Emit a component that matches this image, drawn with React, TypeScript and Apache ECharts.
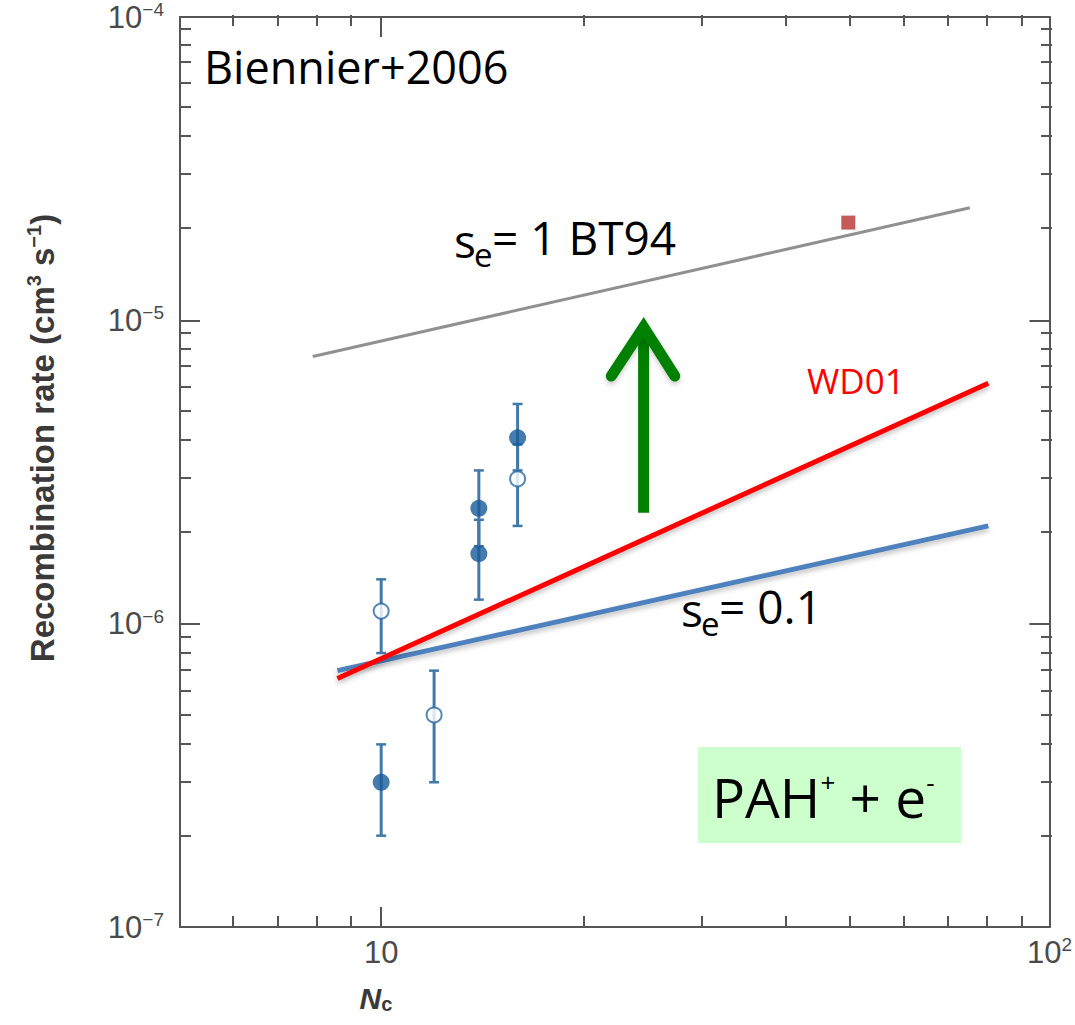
import React, { useEffect, useRef } from "react";
import * as echarts from "echarts";

// ---- axes ----
const xRange = [5, 100];
const yRange = [1e-7, 1e-4];
const xMajorTicks = [10, 100];
const xMinorTicks = [6, 7, 8, 9, 20, 30, 40, 50, 60, 70, 80, 90];
const yMajorTicks = [1e-7, 1e-6, 1e-5, 1e-4];
const yMinorTicks = [
  2e-7, 3e-7, 4e-7, 5e-7, 6e-7, 7e-7, 8e-7, 9e-7,
  2e-6, 3e-6, 4e-6, 5e-6, 6e-6, 7e-6, 8e-6, 9e-6,
  2e-5, 3e-5, 4e-5, 5e-5, 6e-5, 7e-5, 8e-5, 9e-5,
];

// ---- measurements (Biennier+2006) ----
const filledNc = [10, 14, 14, 16];
const filledRate = [3.0e-7, 1.7e-6, 2.4e-6, 4.1e-6];
const filledLow = [2.0e-7, 1.2e-6, 1.8e-6, 3.2e-6];
const filledHigh = [4.0e-7, 2.2e-6, 3.2e-6, 5.3e-6];

const openNc = [10, 12, 16];
const openRate = [1.1e-6, 5.0e-7, 3.0e-6];
const openLow = [8.0e-7, 3.0e-7, 2.1e-6];
const openHigh = [1.4e-6, 7.0e-7, 3.9e-6];

const squareNc = [50];
const squareRate = [2.1e-5];

// ---- model lines ----
const bt94Nc = [7.9, 76];
const bt94Rate = [7.6e-6, 2.35e-5];
const wd01Nc = [8.6, 81];
const wd01Rate = [6.6e-7, 6.2e-6];
const se01Nc = [8.6, 81];
const se01Rate = [7.0e-7, 2.1e-6];

// ---- green arrow ----
const arrowShaftNc = [24.7, 24.7];
const arrowShaftRate = [2.32e-6, 9.2e-6];
const arrowHeadNc = [22.1, 24.7, 27.5];
const arrowHeadRate = [6.55e-6, 9.5e-6, 6.55e-6];

const lg = (v: number) => Math.round(Math.log10(v) * 1e9) / 1e9;
const pairs = (xs: number[], ys: number[]) => xs.map((x, i) => [lg(x), lg(ys[i])]);

const AXIS_COLOR = "#555555";
const LABEL_FONT = "Liberation Sans";
const ANNOT_FONT = "Open Sans";

const annot = (x: number, y: number, text: string, size: number, fill = "#000000") => ({
  type: "text",
  x,
  y,
  z: 3,
  style: { text, fontSize: size, fontFamily: ANNOT_FONT, fill, align: "left", verticalAlign: "middle" },
});

export default function App() {
  const ref = useRef<HTMLDivElement>(null);

  useEffect(() => {
    if (!ref.current) return;
    const chart = echarts.init(ref.current, undefined, { renderer: "svg" });

    const gridBox = { left: 180, right: 23, top: 15, bottom: 98 };
    const lineStyle = { color: AXIS_COLOR, width: 2 };

    const labelRich = {
      b: { fontSize: 31, fontFamily: LABEL_FONT, color: "#4a4a4a", lineHeight: 34 },
      s: { fontSize: 19, fontFamily: LABEL_FONT, color: "#4a4a4a", lineHeight: 19, verticalAlign: "top" },
    };

    const xAxisBase = (grid: number, pos: string, ticks: number[], len: number, labels: boolean, showLine: boolean) => ({
      type: "value",
      gridIndex: grid,
      position: pos,
      min: lg(xRange[0]),
      max: lg(xRange[1]),
      axisLine: { show: showLine, lineStyle },
      axisTick: { show: true, inside: true, length: len, customValues: ticks.map(lg), lineStyle },
      axisLabel: labels
        ? {
            show: true,
            customValues: xMajorTicks.map(lg),
            margin: 8,
            fontSize: 31,
            fontFamily: LABEL_FONT,
            color: "#4a4a4a",
            formatter: (v: number) => {
              const e = Math.round(v);
              return e === 1 ? "{b|10}" : `{b|10}{s|${e}}`;
            },
            rich: labelRich,
          }
        : { show: false },
      splitLine: { show: false },
    });

    const yAxisBase = (grid: number, pos: string, ticks: number[], len: number, labels: boolean, showLine: boolean) => ({
      type: "value",
      gridIndex: grid,
      position: pos,
      min: lg(yRange[0]),
      max: lg(yRange[1]),
      axisLine: { show: showLine, lineStyle },
      axisTick: { show: true, inside: true, length: len, customValues: ticks.map(lg), lineStyle },
      axisLabel: labels
        ? {
            show: true,
            customValues: yMajorTicks.map(lg),
            margin: 16,
            fontSize: 31,
            fontFamily: LABEL_FONT,
            color: "#4a4a4a",
            formatter: (v: number) => `{b|10}{s|\u2212${-Math.round(v)}}`,
            rich: labelRich,
          }
        : { show: false },
      splitLine: { show: false },
    });

    const errData = [
      ...filledNc.map((n, i) => [lg(n), lg(filledLow[i]), lg(filledHigh[i])]),
      ...openNc.map((n, i) => [lg(n), lg(openLow[i]), lg(openHigh[i])]),
    ];

    const errColor = "#4379a8";

    const option: any = {
      animation: false,
      backgroundColor: "#ffffff",
      grid: [{ ...gridBox }, { ...gridBox }],
      xAxis: [
        xAxisBase(0, "bottom", xMajorTicks, 20, true, true),
        xAxisBase(0, "top", xMajorTicks, 20, false, true),
        xAxisBase(1, "bottom", xMinorTicks, 11, false, false),
        xAxisBase(1, "top", xMinorTicks, 11, false, false),
      ],
      yAxis: [
        yAxisBase(0, "left", yMajorTicks, 20, true, true),
        yAxisBase(0, "right", yMajorTicks, 20, false, true),
        yAxisBase(1, "left", yMinorTicks, 11, false, false),
        yAxisBase(1, "right", yMinorTicks, 11, false, false),
      ],
      series: [
        {
          name: "s_e = 1 BT94",
          type: "line",
          xAxisIndex: 0,
          yAxisIndex: 0,
          data: pairs(bt94Nc, bt94Rate),
          showSymbol: false,
          lineStyle: { color: "#909090", width: 3 },
          z: 2,
        },
        {
          name: "WD01",
          type: "line",
          xAxisIndex: 0,
          yAxisIndex: 0,
          data: pairs(wd01Nc, wd01Rate),
          showSymbol: false,
          lineStyle: {
            color: "#ff0000",
            width: 5,
            shadowColor: "rgba(0,0,0,0.25)",
            shadowBlur: 5,
            shadowOffsetY: 3,
          },
          z: 4,
        },
        {
          name: "s_e = 0.1",
          type: "line",
          xAxisIndex: 0,
          yAxisIndex: 0,
          data: pairs(se01Nc, se01Rate),
          showSymbol: false,
          lineStyle: {
            color: "#4f81bd",
            width: 5,
            shadowColor: "rgba(0,0,0,0.25)",
            shadowBlur: 5,
            shadowOffsetY: 3,
          },
          z: 3,
        },
        {
          name: "error bars",
          type: "custom",
          xAxisIndex: 0,
          yAxisIndex: 0,
          data: errData,
          encode: { x: 0, y: [1, 2] },
          z: 5,
          renderItem: (params: any, api: any) => {
            const x = api.value(0);
            const p1 = api.coord([x, api.value(1)]);
            const p2 = api.coord([x, api.value(2)]);
            const w = 5;
            const st = { stroke: errColor, lineWidth: 3 };
            const st2 = { stroke: errColor, lineWidth: 2.5 };
            return {
              type: "group",
              children: [
                { type: "line", shape: { x1: p1[0], y1: p1[1], x2: p2[0], y2: p2[1] }, style: st },
                { type: "line", shape: { x1: p1[0] - w, y1: p1[1], x2: p1[0] + w, y2: p1[1] }, style: st2 },
                { type: "line", shape: { x1: p2[0] - w, y1: p2[1], x2: p2[0] + w, y2: p2[1] }, style: st2 },
              ],
            };
          },
        },
        {
          name: "filled",
          type: "scatter",
          xAxisIndex: 0,
          yAxisIndex: 0,
          data: pairs(filledNc, filledRate),
          symbol: "circle",
          symbolSize: 17,
          itemStyle: { color: "#185a98" },
          z: 6,
        },
        {
          name: "open",
          type: "scatter",
          xAxisIndex: 0,
          yAxisIndex: 0,
          data: pairs(openNc, openRate),
          symbol: "circle",
          symbolSize: 15,
          itemStyle: { color: "#ffffff", borderColor: "#2a6aa3", borderWidth: 2 },
          z: 6,
        },
        {
          name: "square",
          type: "scatter",
          xAxisIndex: 0,
          yAxisIndex: 0,
          data: pairs(squareNc, squareRate),
          symbol: "rect",
          symbolSize: 14,
          itemStyle: { color: "#b5322e" },
          z: 6,
        },
        {
          name: "arrow shaft",
          type: "line",
          xAxisIndex: 0,
          yAxisIndex: 0,
          data: pairs(arrowShaftNc, arrowShaftRate),
          showSymbol: false,
          lineStyle: { color: "#008000", width: 11, cap: "butt" },
          z: 7,
        },
        {
          name: "arrow head",
          type: "line",
          xAxisIndex: 0,
          yAxisIndex: 0,
          data: pairs(arrowHeadNc, arrowHeadRate),
          showSymbol: false,
          lineStyle: {
            color: "#008000",
            width: 11,
            cap: "round",
            join: "miter",
            shadowColor: "rgba(0,0,0,0.2)",
            shadowBlur: 5,
            shadowOffsetY: 3,
          },
          z: 7,
        },
      ],
      graphic: {
        elements: [
          {
            type: "text",
            x: 42,
            y: 438,
            rotation: Math.PI / 2,
            style: {
              text: "{a|Recombination rate (cm}{s|3}{a| s}{s|\u22121}{a|)}",
              align: "center",
              verticalAlign: "middle",
              rich: {
                a: { fontSize: 33, fontWeight: "bold", fontFamily: LABEL_FONT, fill: "#3a3a3a", lineHeight: 36 },
                s: { fontSize: 20, fontWeight: "bold", fontFamily: LABEL_FONT, fill: "#3a3a3a", lineHeight: 20, verticalAlign: "top" },
              },
            },
          },
          {
            type: "text",
            x: 376,
            y: 998,
            style: {
              text: "{n|N}{c|c}",
              align: "center",
              verticalAlign: "middle",
              rich: {
                n: { fontSize: 30, fontWeight: "bold", fontStyle: "italic", fontFamily: LABEL_FONT, fill: "#3a3a3a", lineHeight: 32 },
                c: { fontSize: 20, fontWeight: "bold", fontFamily: LABEL_FONT, fill: "#3a3a3a", lineHeight: 12, verticalAlign: "bottom" },
              },
            },
          },
          annot(204, 66, "Biennier+2006", 45),
          // s_e = 1 BT94
          annot(454, 240, "s", 46),
          annot(474, 254, "e", 33),
          annot(492, 237, "= 1 BT94", 46),
          // s_e = 0.1
          annot(681, 609, "s", 46),
          annot(701, 623, "e", 33),
          annot(719, 606, "= 0.1", 46),
          annot(807, 380, "WD01", 35, "#ff0000"),
          {
            type: "rect",
            shape: { x: 698, y: 747, width: 263, height: 96 },
            style: { fill: "#ccffcc" },
            z: 1,
          },
          {
            type: "text",
            x: 712,
            y: 796,
            z: 2,
            style: {
              text: "{m|PAH}{s|+}{m| + e}{s|-}",
              align: "left",
              verticalAlign: "middle",
              rich: {
                m: { fontSize: 55, fontFamily: ANNOT_FONT, fill: "#000000", lineHeight: 55 },
                s: { fontSize: 26, fontFamily: ANNOT_FONT, fill: "#000000", lineHeight: 30, verticalAlign: "top" },
              },
            },
          },
        ],
      },
    };

    chart.setOption(option);
    return () => chart.dispose();
  }, []);

  return (
    <div
      ref={ref}
      style={{ position: "fixed", left: 0, top: 0, width: 1075, height: 1025, background: "#fff" }}
    />
  );
}
